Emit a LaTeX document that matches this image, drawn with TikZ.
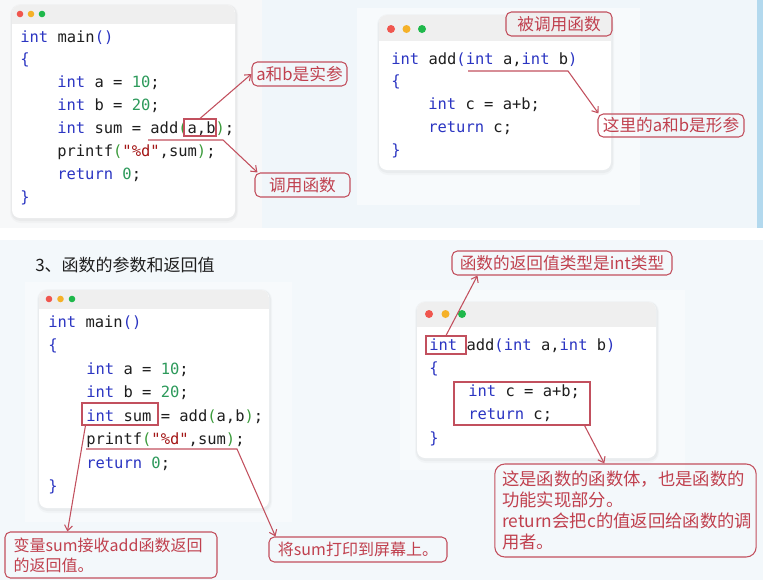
\documentclass[tikz,border=0pt]{standalone}
\usepackage{fontspec}
\setmainfont{Noto Sans CJK SC}
\setmonofont{DejaVu Sans Mono}
\usetikzlibrary{arrows.meta,calc,fit}
\definecolor{ckwcol}{HTML}{2B35C2}
\definecolor{cnumcol}{HTML}{2D9A5B}
\definecolor{cstrcol}{HTML}{A31515}
\definecolor{cparcol}{HTML}{3B9B3B}
\definecolor{codetxt}{HTML}{1E1E1E}
\definecolor{labred}{HTML}{C2505E}
\definecolor{labtxt}{HTML}{C0404E}
\definecolor{bgtop}{HTML}{F0F6FA}
\definecolor{bgtopleft}{HTML}{F7F8F9}
\definecolor{bgbot}{HTML}{F3F8FB}
\definecolor{barcol}{HTML}{EFEFEF}
\definecolor{dotr}{HTML}{F0564E}
\definecolor{doty}{HTML}{F5B128}
\definecolor{dotg}{HTML}{1FB84B}
\definecolor{edgeblue}{HTML}{B3D9EE}
\newcommand{\ckw}[1]{\textcolor{ckwcol}{#1}}
\newcommand{\cnum}[1]{\textcolor{cnumcol}{#1}}
\newcommand{\cstr}[1]{\textcolor{cstrcol}{#1}}
\newcommand{\cpar}[1]{\textcolor{cparcol}{#1}}
\newcommand{\mycard}[9]{%
  \fill[black,opacity=0.025,rounded corners=8] (#1-2,#2-1) rectangle (#3+3,#4+5);
  \fill[black,opacity=0.03,rounded corners=7] (#1-1,#2) rectangle (#3+2,#4+3);
  \fill[white,rounded corners=6] (#1,#2) rectangle (#3,#4);
  \begin{scope}
    \clip[rounded corners=6] (#1,#2) rectangle (#3,#4);
    \fill[barcol] (#1,#2) rectangle (#3,#5);
  \end{scope}
  \fill[dotr] (#6,#8) circle[radius=#9];
  \fill[doty] (#6+#7,#8) circle[radius=#9];
  \fill[dotg] (#6+2*#7,#8) circle[radius=#9];
}
\begin{document}
\begin{tikzpicture}[x=0.75pt,y=-0.75pt,
  code/.style={anchor=base west,inner sep=0,font=\fontsize{11.6}{14}\ttfamily,text=codetxt},
  hl/.style={draw=labred,line width=0.8pt,inner sep=0},
  lab/.style={draw=labred,line width=0.8pt,rounded corners=4pt,text=labtxt,inner sep=0,
    font=\fontsize{12.5}{15}\selectfont},
  conn/.style={draw=labred,line width=0.8pt,-{Straight Barb[length=4pt,width=6pt]}}]
\useasboundingbox (0,0) rectangle (770,586);
% backgrounds
\fill[white] (0,0) rectangle (770,586);
\fill[bgtopleft] (0,0) rectangle (262,228);
\fill[bgtop] (262,0) rectangle (757,228);
\fill[white,opacity=0.5] (357,8) rectangle (640,205);
\fill[edgeblue] (757,0) rectangle (763,228);
\fill[bgbot] (0,240) rectangle (763,580);
\fill[white,opacity=0.35] (25,282) rectangle (292,522);
\fill[white,opacity=0.35] (400,290) rectangle (685,470);
% cards
\mycard{12}{5}{235}{218}{24}{20}{11}{14}{3.3}
\mycard{379}{15}{611}{170}{41}{391}{15.5}{29}{4}
\mycard{39}{290}{269}{508}{309}{49}{11.5}{299}{3.3}
\mycard{417}{302}{656}{458}{327}{429}{16.5}{314}{4}
% top-left code
\node[code] (tl1) at (20,42) {\ckw{int} main\ckw{()}};
\node[code] (tl2) at (20,64.9) {\ckw{\{}};
\node[code] (tl3) at (57,87.7) {\ckw{int} a = \cnum{10};};
\node[code] (tl4) at (57,110.6) {\ckw{int} b = \cnum{20};};
\node[code] (tl5) at (57,133.4) {\ckw{int} sum = add\cpar{(}a,b\cpar{)};};
\node[code] (tl6) at (57,156.3) {printf\cpar{(}\cstr{"\%d"},sum\cpar{)};};
\node[code] (tl7) at (57,179.2) {\ckw{return} \cnum{0};};
\node[code] (tl8) at (20,202) {\ckw{\}}};
% top-right code
\node[code] (tr1) at (391,64) {\ckw{int} add\ckw{(int} a,\ckw{int} b\ckw{)}};
\node[code] (tr2) at (391,86.75) {\ckw{\{}};
\node[code] (tr3) at (428,109.5) {\ckw{int} c = a+b;};
\node[code] (tr4) at (428,132.25) {\ckw{return} c;};
\node[code] (tr5) at (391,155) {\ckw{\}}};
% bottom-left code
\node[code] (bl1) at (48,327) {\ckw{int} main\ckw{()}};
\node[code] (bl2) at (48,350.5) {\ckw{\{}};
\node[code] (bl3) at (86,374) {\ckw{int} a = \cnum{10};};
\node[code] (bl4) at (86,397.5) {\ckw{int} b = \cnum{20};};
\node[code] (bl5) at (86,421) {\ckw{int} sum = add\cpar{(}a,b\cpar{)};};
\node[code] (bl6) at (86,444.5) {printf\cpar{(}\cstr{"\%d"},sum\cpar{)};};
\node[code] (bl7) at (86,468) {\ckw{return} \cnum{0};};
\node[code] (bl8) at (48,491.5) {\ckw{\}}};
% bottom-right code
\node[code] (br1) at (429,350) {\ckw{int} add\ckw{(int} a,\ckw{int} b\ckw{)}};
\node[code] (br2) at (429,373.25) {\ckw{\{}};
\node[code] (br3) at (468,396.5) {\ckw{int} c = a+b;};
\node[code] (br4) at (468,419.75) {\ckw{return} c;};
\node[code] (br5) at (429,443) {\ckw{\}}};
% section title
\node[anchor=west,inner sep=0,text=codetxt,font=\fontsize{12.75}{15}\selectfont] (title) at (35,265) {3、函数的参数和返回值};
% highlight boxes
\node[hl,fit={(184,119) (216,136)}] (ab) {};
\node[hl,fit={(82,403) (158,425)}] (isum) {};
\node[hl,fit={(426,336) (466,354)}] (rint) {};
\node[hl,fit={(454,382) (590,425)}] (body) {};
% labels
\node[lab,minimum width=71.25pt,minimum height=18pt] (l1) at (299.5,74) {a和b是实参};
\node[lab,minimum width=71.25pt,minimum height=18pt] (l2) at (302.5,185) {调用函数};
\node[lab,fill=barcol,minimum width=79.5pt,minimum height=18pt] (l3) at (559,24) {被调用函数};
\node[lab,minimum width=109.5pt,minimum height=17.25pt] (l4) at (671,125.5) {这里的a和b是形参};
\node[lab,font=\fontsize{12}{15}\selectfont,text width=146pt,inner xsep=6.5pt,align=left,minimum height=34.5pt] (l5) at (111,555) {变量sum接收add函数返回\\的返回值。};
\node[lab,font=\fontsize{12}{15}\selectfont,minimum width=133.5pt,minimum height=18.75pt] (l6) at (358,549.5) {将sum打印到屏幕上。};
\node[lab,minimum width=165pt,minimum height=18pt] (l7) at (562,263) {函数的返回值类型是int类型};
\node[lab,rounded corners=7.5pt,font=\fontsize{13}{15.75}\selectfont,text width=185pt,inner xsep=5.5pt,align=left,minimum height=69.75pt] (l8) at (625.5,510.5) {这是函数的函数体，也是函数的\\功能实现部分。\\return会把c的值返回给函数的调\\用者。};
% connector coordinates
\coordinate (u1s) at (148,140);
\coordinate (u1e) at (223,140);
\coordinate (u2s) at (468,71);
\coordinate (u2e) at (568,71);
\coordinate (u3s) at (86,449);
\coordinate (u3e) at (237,449);
% connectors
\draw[conn] (ab.north) -- (l1.west);
\draw[conn] (u1s) -- (u1e) -- ($(l2.north west)+(3,0)$);
\draw[conn] (u2s) -- (u2e) -- ($(l4.north west)+(1,0)$);
\draw[conn] ($(isum.south west)+(4,0)$) -- ($(l5.north west)+(63,0)$);
\draw[conn] (u3s) -- (u3e) -- ($(l6.north west)+(7,0)$);
\draw[conn] (rint.north) -- ($(l7.south west)+(26,0)$);
\draw[conn] ($(body.south east)+(-6,0)$) -- ($(l8.north west)+(110,0)$);
\end{tikzpicture}
\end{document}
